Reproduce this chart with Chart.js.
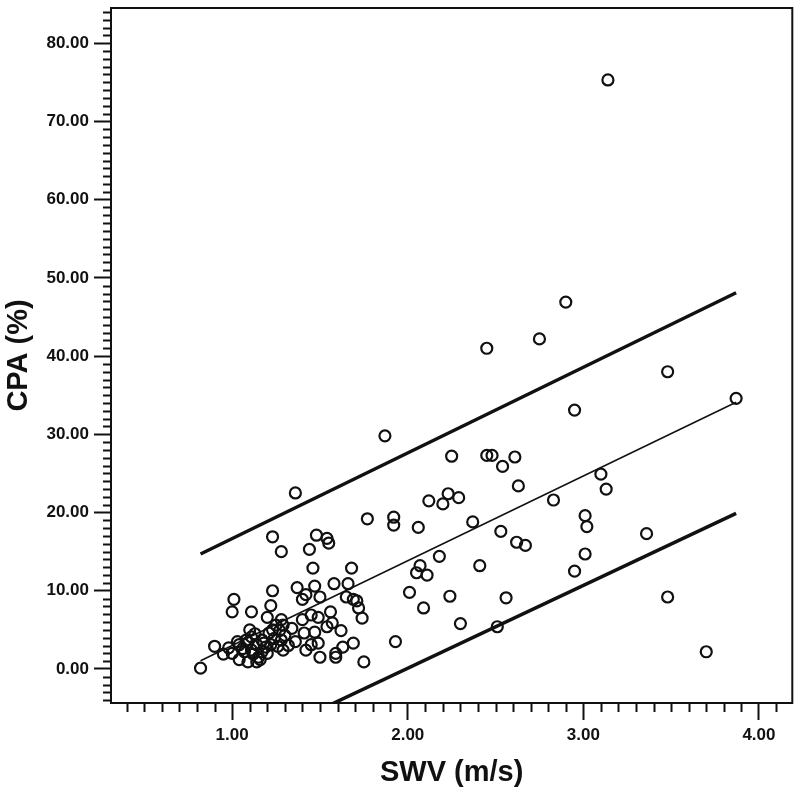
<!DOCTYPE html>
<html lang="en">
<head>
  <meta charset="UTF-8">
  <title>CPA vs SWV</title>
  <script src="https://cdn.jsdelivr.net/npm/chart.js"></script>
  <style>
    body { margin: 0; background: #fff; }
    canvas { display: block; }
  </style>
</head>
<body>
  <canvas id="plot" width="800" height="797"></canvas>

  <script>
    // measured points (SWV m/s, CPA %)
    const swv = [
      0.82, 0.90, 0.95, 1.00, 1.01, 1.00, 1.23, 1.28, 1.23, 1.11,
      1.22, 1.20, 1.10, 1.11, 1.04, 1.07, 1.04, 1.09, 1.14, 1.15,
      1.08, 1.14, 1.17, 1.19, 1.21, 1.23, 1.25, 1.11, 1.17, 1.22,
      1.26, 1.29, 1.28, 1.03, 0.98,
      1.06, 1.12, 1.18, 1.13, 1.24, 1.16, 1.20, 1.09, 1.32, 1.27,
      1.44, 1.48, 1.54, 1.55, 1.77, 1.46, 1.68, 1.37, 1.40, 1.42,
      1.47, 1.50, 1.58, 1.66, 1.65, 1.69, 1.71, 1.72, 1.74, 1.56,
      1.49, 1.45, 1.40, 1.62, 1.54, 1.57, 1.34, 1.30, 1.36, 1.41,
      1.47, 1.45, 1.49, 1.42, 1.50, 1.59, 1.59, 1.63, 1.69, 1.75,
      1.36, 1.87, 1.29, 1.28,
      3.14, 2.90, 2.45, 2.75, 3.48, 3.87, 2.95, 2.25, 2.45, 2.48,
      2.54, 2.61, 2.63, 3.10, 3.13, 2.12, 2.20, 2.23, 2.29, 2.83,
      1.92, 1.92, 2.06, 2.37, 2.53, 3.01, 3.02, 3.36, 2.62, 2.67,
      2.18, 3.01, 2.07, 2.05, 2.11, 2.41, 2.95, 2.01, 2.24, 2.56,
      3.48, 2.09, 2.30, 2.51, 3.70, 1.93
    ];
    const cpa = [
      0.1, 2.9, 1.9, 2.0, 8.9, 7.3, 16.9, 15.0, 10.0, 7.3,
      8.1, 6.6, 5.0, 4.1, 3.1, 2.2, 1.2, 0.9, 0.9, 1.5,
      3.7, 3.1, 3.7, 2.8, 4.6, 5.0, 5.6, 2.4, 2.2, 3.1,
      2.9, 2.4, 6.3, 3.5, 2.7,
      2.6, 1.9, 3.3, 4.5, 3.9, 1.2, 2.0, 3.4, 3.0, 4.9,
      15.3, 17.1, 16.7, 16.1, 19.2, 12.9, 12.9, 10.4, 8.9, 9.5,
      10.6, 9.2, 10.9, 10.9, 9.2, 8.9, 8.7, 7.8, 6.5, 7.3,
      6.6, 6.9, 6.3, 4.9, 5.4, 5.9, 5.2, 4.3, 3.5, 4.6,
      4.7, 3.1, 3.3, 2.4, 1.5, 1.5, 2.0, 2.8, 3.3, 0.9,
      22.5, 29.8, 5.6, 3.7,
      75.3, 46.9, 41.0, 42.2, 38.0, 34.6, 33.1, 27.2, 27.3, 27.3,
      25.9, 27.1, 23.4, 24.9, 23.0, 21.5, 21.1, 22.4, 21.9, 21.6,
      19.4, 18.4, 18.1, 18.8, 17.6, 19.6, 18.2, 17.3, 16.2, 15.8,
      14.4, 14.7, 13.2, 12.3, 12.0, 13.2, 12.5, 9.8, 9.3, 9.1,
      9.2, 7.8, 5.8, 5.4, 2.2, 3.5
    ];

    // fit line and the two limit lines (end points)
    const lineX = [0.82, 3.87];
    const fitY = [1.05, 34.1];
    const upperY = [14.7, 48.1];
    const lowerY = [-12.4, 19.9];

    const xTickValues = [1, 2, 3, 4];
    const yTickValues = [0, 10, 20, 30, 40, 50, 60, 70, 80];

    const points = swv.map((x, i) => ({ x: x, y: cpa[i] }));
    const toXY = ys => lineX.map((x, i) => ({ x: x, y: ys[i] }));

    const tickFont = { family: "'Liberation Sans', Arial, sans-serif", size: 17, weight: 'bold' };
    const titleFont = { family: "'Liberation Sans', Arial, sans-serif", size: 29, weight: 'bold' };

    // box round the plot area + minor ticks
    const framePlugin = {
      id: 'frame',
      afterDraw(chart) {
        const { ctx, chartArea: a, scales } = chart;
        ctx.save();
        ctx.strokeStyle = '#111';
        ctx.lineWidth = 2;
        ctx.strokeRect(a.left, a.top, a.right - a.left, a.bottom - a.top);
        ctx.beginPath();
        for (let v = -4; v <= 84; v++) {
          if (v % 10 === 0) continue;
          const y = Math.round(scales.y.getPixelForValue(v)) + 0.5;
          ctx.moveTo(a.left - 8, y);
          ctx.lineTo(a.left, y);
        }
        for (let k = 4; k <= 41; k++) {
          if (k % 10 === 0) continue;
          const x = Math.round(scales.x.getPixelForValue(k / 10)) + 0.5;
          ctx.moveTo(x, a.bottom);
          ctx.lineTo(x, a.bottom + 9);
        }
        ctx.stroke();
        ctx.restore();
      }
    };

    new Chart(document.getElementById('plot').getContext('2d'), {
      type: 'scatter',
      data: {
        datasets: [
          {
            label: 'CPA',
            data: points,
            pointRadius: 5.5,
            pointBorderWidth: 2.2,
            borderColor: '#111',
            backgroundColor: 'rgba(0,0,0,0)'
          },
          {
            label: 'Fit',
            type: 'line',
            data: toXY(fitY),
            borderColor: '#111',
            borderWidth: 1.5,
            pointRadius: 0
          },
          {
            label: 'Upper',
            type: 'line',
            data: toXY(upperY),
            borderColor: '#111',
            borderWidth: 3.5,
            pointRadius: 0
          },
          {
            label: 'Lower',
            type: 'line',
            data: toXY(lowerY),
            borderColor: '#111',
            borderWidth: 3.5,
            pointRadius: 0
          }
        ]
      },
      options: {
        responsive: false,
        animation: false,
        layout: { padding: { top: 8, right: 5, left: 0, bottom: 0 } },
        plugins: {
          legend: { display: false },
          tooltip: { enabled: false }
        },
        scales: {
          x: {
            type: 'linear',
            min: 0.31,
            max: 4.19,
            afterFit(scale) {
              scale.height = 94;
              scale.paddingLeft = 0;
              scale.paddingRight = 0;
            },
            afterBuildTicks(scale) { scale.ticks = xTickValues.map(v => ({ value: v })); },
            border: { display: true, color: '#111', width: 2 },
            grid: { drawOnChartArea: false, drawTicks: true, tickLength: 17, tickColor: '#111', tickWidth: 2 },
            ticks: {
              color: '#111',
              font: tickFont,
              padding: 5,
              maxRotation: 0,
              callback: v => v.toFixed(2)
            },
            title: {
              display: true,
              text: 'SWV (m/s)',
              color: '#111',
              font: titleFont,
              padding: { top: 0, bottom: 7 }
            }
          },
          y: {
            type: 'linear',
            min: -4.35,
            max: 84.5,
            afterFit(scale) {
              scale.width = 111;
              scale.paddingTop = 0;
              scale.paddingBottom = 0;
            },
            afterBuildTicks(scale) { scale.ticks = yTickValues.map(v => ({ value: v })); },
            border: { display: true, color: '#111', width: 2 },
            grid: { drawOnChartArea: false, drawTicks: true, tickLength: 17, tickColor: '#111', tickWidth: 2 },
            ticks: {
              color: '#111',
              font: tickFont,
              padding: 5,
              callback: v => v.toFixed(2)
            },
            title: {
              display: true,
              text: 'CPA (%)',
              color: '#111',
              font: titleFont,
              padding: { top: 2, bottom: 0 }
            }
          }
        }
      },
      plugins: [framePlugin]
    });
  </script>
</body>
</html>
